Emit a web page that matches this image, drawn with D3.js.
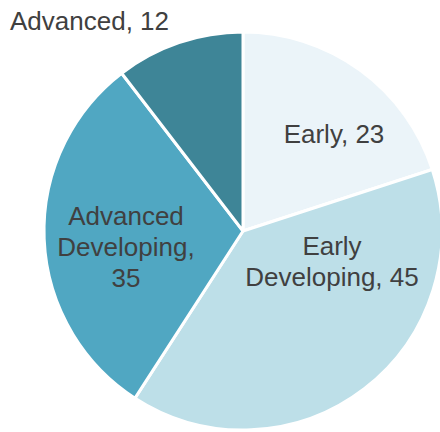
<!DOCTYPE html>
<html>
<head>
<meta charset="utf-8">
<script src="https://cdn.jsdelivr.net/npm/d3@7"></script>
<style>
  body { margin: 0; background: #fff; }
  text { font-family: "Liberation Sans", Arial, sans-serif; fill: #404040; }
</style>
</head>
<body>
<div id="content"></div>
<script>
// Data
const categories = ['Early', 'Early Developing', 'Advanced Developing', 'Advanced'];
const values = [23, 45, 35, 12];
const colors = ['#ebf4f9', '#bddfe8', '#50a7c2', '#3e8597'];

// label lines + offsets from centre (layout only)
const labelLines = [['Early, 23'], ['Early', 'Developing, 45'], ['Advanced', 'Developing,', '35'], ['Advanced, 12']];
const labelPos = [[91, -97], [89, 30], [-117, 16], [-233, -210]];

let width = 440, height = 432;
let cx = 243, cy = 231, radius = 199;

let svg = d3.select('#content')
            .append('svg')
            .attr('width', width)
            .attr('height', height);

let g = svg.append('g').attr('transform', 'translate(' + cx + ',' + cy + ')');

let pie = d3.pie().sort(null).value((d) => d)(values);
let arc = d3.arc().innerRadius(0).outerRadius(radius);

g.selectAll('.slice')
 .data(pie)
 .enter()
 .append('path')
 .attr('class', 'slice')
 .attr('d', arc)
 .attr('fill', (d, i) => colors[i])
 .attr('stroke', '#fff')
 .attr('stroke-width', 3)
 .attr('stroke-linejoin', 'round');

let lineH = 31;
let labels = g.selectAll('.label')
  .data(labelLines)
  .enter()
  .append('text')
  .attr('class', 'label')
  .attr('font-size', 26)
  .attr('text-anchor', (d, i) => i === 3 ? 'start' : 'middle')
  .attr('transform', (d, i) => 'translate(' + labelPos[i][0] + ',' + labelPos[i][1] + ')');

labels.selectAll('tspan')
  .data((d) => d.map((t, j) => ({t: t, j: j, n: d.length})))
  .enter()
  .append('tspan')
  .attr('x', 0)
  .attr('y', (d) => (d.j - (d.n - 1) / 2) * lineH + 9)
  .text((d) => d.t);
</script>
</body>
</html>
